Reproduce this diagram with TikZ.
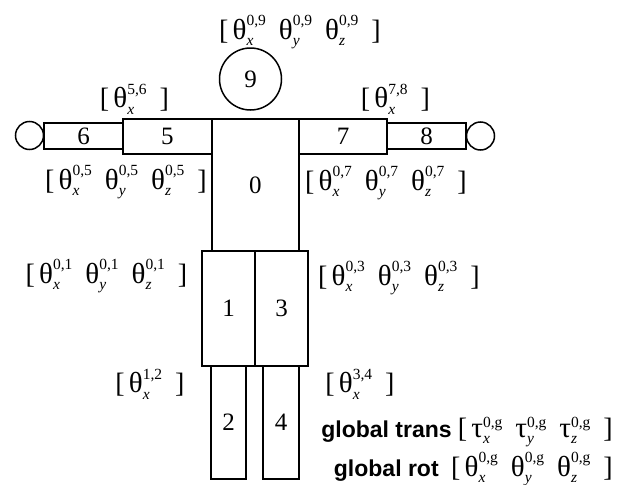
\documentclass[tikz,border=0pt]{standalone}
\usepackage{amsmath}
\usepackage{fontspec}
\setmainfont{Liberation Serif}
\newfontfamily\tagfont{Liberation Sans}
\usetikzlibrary{positioning}

% joint angle / translation symbols
\newcommand{\supsz}{\fontsize{15.5}{15.5}\selectfont}
\newcommand{\symsz}{\fontsize{29}{29}\selectfont}
\newcommand{\jang}[2]{\text{\symsz θ}^{\text{\supsz #2}}_{\text{\supsz\itshape #1}}}
\newcommand{\jtra}[2]{\text{\symsz τ}^{\text{\supsz #2}}_{\text{\supsz\itshape #1}}}
\newcommand{\lbr}{\text{\fontsize{28}{28}\selectfont[}\,}
\newcommand{\rbr}{\enspace\text{\fontsize{28}{28}\selectfont]}}

\tikzset{
  part/.style={draw, line width=1.5pt, rectangle, inner sep=0pt},
  hand/.style={draw, line width=1.5pt, circle, inner sep=0pt, minimum size=28pt},
  dof/.style={inner sep=0pt},
}

\begin{document}
\begin{tikzpicture}[x=1pt,y=-1pt,font=\fontsize{25}{29}\selectfont]
\useasboundingbox (0,0) rectangle (619,485);
% body parts
\node[part, minimum width=87pt, minimum height=132pt] (p0) at (255.3,185) {0};
\node[part, minimum width=88.7pt, minimum height=35pt] (p5) at (167.3,136.5) {5};
\node[part, minimum width=79pt, minimum height=26pt] (p6) at (83.5,136) {6};
\node[part, minimum width=88pt, minimum height=35pt] (p7) at (343,136.5) {7};
\node[part, minimum width=79pt, minimum height=26pt] (p8) at (426.5,136) {8};
\node[hand] (lh) at (29.5,135.5) {};
\node[hand] (rh) at (480.5,136) {};
\node[part, circle, minimum size=62pt] (p9) at (250.5,79) {9};
\node[part, minimum width=53pt, minimum height=115pt] (p1) at (228.5,308.5) {1};
\node[part, minimum width=53pt, minimum height=115pt] (p3) at (281.5,308.5) {3};
\node[part, minimum width=35pt, minimum height=113pt] (p2) at (228.5,422.5) {2};
\node[part, minimum width=36pt, minimum height=113pt] (p4) at (281,422.5) {4};
% degrees of freedom
\node[dof] (d9) at (300,32) {$\lbr\jang{x}{0,9}\enspace\jang{y}{0,9}\enspace\jang{z}{0,9}\rbr$};
\node[dof] (d56) at (134.5,99) {$\lbr\jang{x}{5,6}\rbr$};
\node[dof] (d78) at (395.5,99) {$\lbr\jang{x}{7,8}\rbr$};
\node[dof] (d05) at (126,182) {$\lbr\jang{x}{0,5}\enspace\jang{y}{0,5}\enspace\jang{z}{0,5}\rbr$};
\node[dof] (d07) at (386,183) {$\lbr\jang{x}{0,7}\enspace\jang{y}{0,7}\enspace\jang{z}{0,7}\rbr$};
\node[dof] (d01) at (106.5,276) {$\lbr\jang{x}{0,1}\enspace\jang{y}{0,1}\enspace\jang{z}{0,1}\rbr$};
\node[dof] (d03) at (399,278) {$\lbr\jang{x}{0,3}\enspace\jang{y}{0,3}\enspace\jang{z}{0,3}\rbr$};
\node[dof] (d12) at (150,384) {$\lbr\jang{x}{1,2}\rbr$};
\node[dof] (d34) at (360,384) {$\lbr\jang{x}{3,4}\rbr$};
\node[dof, anchor=base east] (gt) at (613,437) {{\tagfont\bfseries\fontsize{23}{26}\selectfont global trans} $\lbr\jtra{x}{0,g}\enspace\jtra{y}{0,g}\enspace\jtra{z}{0,g}\rbr$};
\node[dof, anchor=base east] (gr) at (613,476) {{\tagfont\bfseries\fontsize{23}{26}\selectfont global rot}\enspace $\lbr\jang{x}{0,g}\enspace\jang{y}{0,g}\enspace\jang{z}{0,g}\rbr$};
\end{tikzpicture}
\end{document}
